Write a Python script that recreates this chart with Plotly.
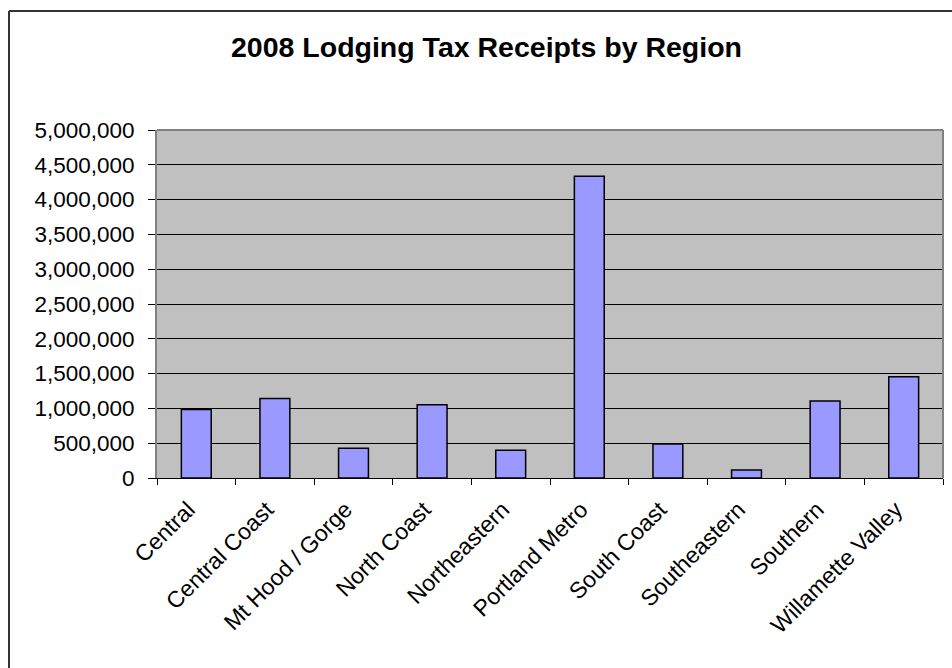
import plotly.graph_objects as go

regions = ["Central", "Central Coast", "Mt Hood / Gorge", "North Coast", "Northeastern",
           "Portland Metro", "South Coast", "Southeastern", "Southern", "Willamette Valley"]
receipts = [985000, 1143000, 426000, 1052000, 397000, 4337000, 488000, 115000, 1105000, 1453000]
y_ticks = [0, 500000, 1000000, 1500000, 2000000, 2500000, 3000000, 3500000, 4000000, 4500000, 5000000]
title_text = "2008 Lodging Tax Receipts by Region"

FONT = "Liberation Sans, Arial, sans-serif"

fig = go.Figure(go.Bar(
    x=regions, y=receipts,
    marker=dict(color="#9999FF", line=dict(color="black", width=1.5)),
))

W, H = 952, 668
L, R, T, B = 157, 9, 130, 190
pw, ph = W - L - R, H - T - B

def px_x(x):
    return (x - L) / pw

def px_y(y):
    return (H - B - y) / ph

fig.update_layout(
    width=W, height=H,
    margin=dict(l=L, r=R, t=T, b=B, pad=0),
    paper_bgcolor="white",
    plot_bgcolor="#C0C0C0",
    bargap=0.62,
    showlegend=False,
    font=dict(family=FONT, color="black", size=22),
    xaxis=dict(
        type="category",
        tickson="boundaries",
        ticks="outside", ticklen=6, tickcolor="black", tickwidth=1,
        tickangle=-45,
        ticklabelstandoff=8,
        ticklabelshift=-8,
        showgrid=False,
        showline=True, linecolor="black", linewidth=1,
        tickfont=dict(size=23),
        mirror=False,
    ),
    yaxis=dict(
        range=[0, 5000000],
        tickvals=y_ticks,
        tickformat=",",
        ticks="outside", ticklen=7, tickcolor="black", tickwidth=1,
        ticklabelstandoff=9,
        showgrid=True, gridcolor="black", gridwidth=1,
        showline=True, linecolor="#808080", linewidth=2,
        zeroline=False,
        tickfont=dict(size=22.5),
    ),
    shapes=[
        dict(type="line", xref="paper", yref="paper", x0=1, x1=1, y0=0, y1=1,
             line=dict(color="#808080", width=2)),
        dict(type="line", xref="paper", yref="paper", x0=0, x1=1, y0=1, y1=1,
             line=dict(color="#808080", width=2)),
        dict(type="line", xref="paper", yref="paper", x0=px_x(9), x1=px_x(9), y0=px_y(11), y1=px_y(H + 20),
             line=dict(color="#333333", width=2)),
        dict(type="line", xref="paper", yref="paper", x0=px_x(9), x1=px_x(W + 20), y0=px_y(11), y1=px_y(11),
             line=dict(color="#333333", width=2)),
    ],
    annotations=[
        dict(text="<b>" + title_text + "</b>", xref="paper", yref="paper",
             x=px_x(486.5), y=px_y(47), xanchor="center", yanchor="middle",
             showarrow=False, font=dict(size=28.5, family=FONT, color="black")),
    ],
)

fig.write_html("out.html")
